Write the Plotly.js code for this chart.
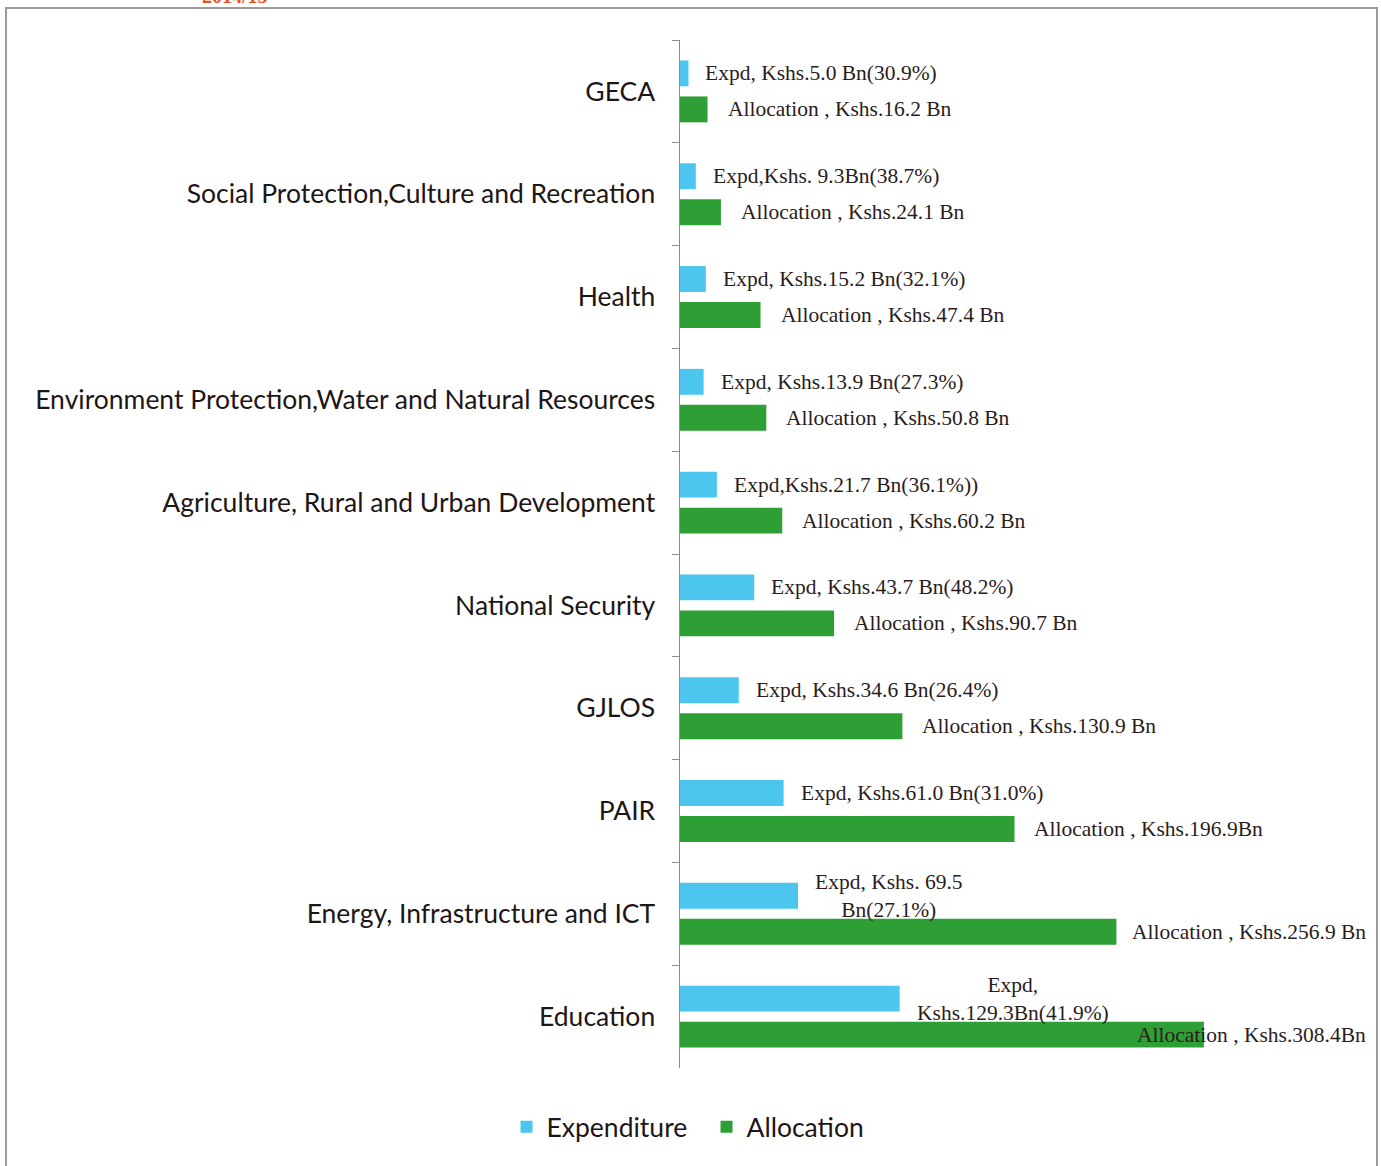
<!DOCTYPE html>
<html>
<head>
<meta charset="utf-8">
<script src="https://cdn.plot.ly/plotly-3.0.1.min.js"></script>
<style>
  body { margin: 0; background: #fff; }
  #chart { width: 1381px; height: 1166px; }
  #frame {
    position: absolute; left: 5px; top: 7px; width: 1369px; height: 1170px;
    border: 2px solid #9a9a9a; pointer-events: none;
  }
</style>
</head>
<body>
<div id="chart"></div>
<div id="frame"></div>
<script>
// sectors, top to bottom
const sectors = [
  'GECA',
  'Social Protection,Culture and Recreation',
  'Health',
  'Environment Protection,Water and Natural Resources',
  'Agriculture, Rural and Urban Development',
  'National Security',
  'GJLOS',
  'PAIR',
  'Energy, Infrastructure and ICT',
  'Education'
];

// Kshs. Bn
const expenditure = [5.0, 9.3, 15.2, 13.9, 21.7, 43.7, 34.6, 61.0, 69.5, 129.3];
const allocation = [16.2, 24.1, 47.4, 50.8, 60.2, 90.7, 130.9, 196.9, 256.9, 308.4];

const expdLabels = [
  'Expd, Kshs.5.0 Bn(30.9%)',
  'Expd,Kshs. 9.3Bn(38.7%)',
  'Expd, Kshs.15.2 Bn(32.1%)',
  'Expd, Kshs.13.9 Bn(27.3%)',
  'Expd,Kshs.21.7 Bn(36.1%))',
  'Expd, Kshs.43.7 Bn(48.2%)',
  'Expd, Kshs.34.6 Bn(26.4%)',
  'Expd, Kshs.61.0 Bn(31.0%)',
  'Expd, Kshs. 69.5<br>Bn(27.1%)',
  'Expd,<br>Kshs.129.3Bn(41.9%)'
];
const allocLabels = [
  'Allocation , Kshs.16.2 Bn',
  'Allocation , Kshs.24.1 Bn',
  'Allocation , Kshs.47.4 Bn',
  'Allocation , Kshs.50.8 Bn',
  'Allocation , Kshs.60.2 Bn',
  'Allocation , Kshs.90.7 Bn',
  'Allocation , Kshs.130.9 Bn',
  'Allocation , Kshs.196.9Bn',
  'Allocation , Kshs.256.9 Bn',
  'Allocation , Kshs.308.4Bn'
];

const blue = '#4cc6ee';
const green = '#2e9f34';
const sansFont = 'Lato, "Open Sans", sans-serif';
const serifFont = '"Liberation Serif", "DejaVu Serif", serif';
const labelSize = 21.5;
const textColor = '#2b1c1c';

const W = 1381, H = 1166;
const margin = {l: 680, r: 13, t: 40, b: 98};
const plotW = W - margin.l - margin.r;
const plotH = H - margin.t - margin.b;
const xMax = 405;
const pxPerUnit = plotW / xMax;
const half = 0.175; // bar centre offset inside a category

// measure label text to keep it inside the plot
const ctx = document.createElement('canvas').getContext('2d');
ctx.font = labelSize + 'px "Liberation Serif"';

const annotations = [];
sectors.forEach((s, i) => {
  annotations.push({
    x: expenditure[i], y: i - half, xref: 'x', yref: 'y',
    text: expdLabels[i], showarrow: false,
    xanchor: 'left', yanchor: 'middle', xshift: 15, align: 'center',
    font: {family: serifFont, size: labelSize, color: textColor}
  });
  const w = ctx.measureText(allocLabels[i]).width;
  const fits = allocation[i] * pxPerUnit + 19 + w < plotW;
  annotations.push(fits ? {
    x: allocation[i], y: i + half, xref: 'x', yref: 'y',
    text: allocLabels[i], showarrow: false,
    xanchor: 'left', yanchor: 'middle', xshift: 18,
    font: {family: serifFont, size: labelSize, color: textColor}
  } : {
    x: 1, y: i + half, xref: 'paper', yref: 'y',
    text: allocLabels[i], showarrow: false,
    xanchor: 'right', yanchor: 'middle',
    font: {family: serifFont, size: labelSize, color: textColor}
  });
});

// heading cut off by the page edge
annotations.push({
  x: (200 - margin.l) / plotW, y: 1 + margin.t / plotH, xref: 'paper', yref: 'paper',
  text: '<b>2014/15</b>', showarrow: false, xanchor: 'left', yanchor: 'middle', yshift: 4,
  font: {family: serifFont, size: 20, color: '#e8541e'}
});

const data = [
  {
    type: 'bar', orientation: 'h', name: 'Expenditure',
    y: sectors, x: expenditure,
    marker: {color: blue}, hoverinfo: 'x+y'
  },
  {
    type: 'bar', orientation: 'h', name: 'Allocation',
    y: sectors, x: allocation,
    marker: {color: green}, hoverinfo: 'x+y'
  }
];

const layout = {
  width: W, height: H,
  margin: margin,
  paper_bgcolor: '#fff', plot_bgcolor: '#fff',
  barmode: 'group', bargap: 0.3, bargroupgap: 0.28,
  font: {family: sansFont, color: '#1e1616'},
  xaxis: {
    range: [0, xMax], visible: false, fixedrange: true
  },
  yaxis: {
    type: 'category', autorange: 'reversed',
    showline: true, linecolor: '#8c8c8c', linewidth: 1.5,
    ticks: 'outside', tickson: 'boundaries', ticklen: 7, tickcolor: '#8c8c8c',
    ticklabelstandoff: 18,
    tickfont: {family: sansFont, size: 26.5, color: '#1e1616'},
    showgrid: false, zeroline: false
  },
  showlegend: true,
  legend: {
    orientation: 'h', xref: 'container', yref: 'container',
    x: 0.5116, xanchor: 'center', y: 1 - 1127 / H, yanchor: 'middle',
    font: {family: sansFont, size: 26.5, color: '#1e1616'},
    itemwidth: 30, entrywidth: 155
  },
  annotations: annotations
};

Plotly.newPlot('chart', data, layout, {displayModeBar: false, staticPlot: true});
</script>
</body>
</html>
